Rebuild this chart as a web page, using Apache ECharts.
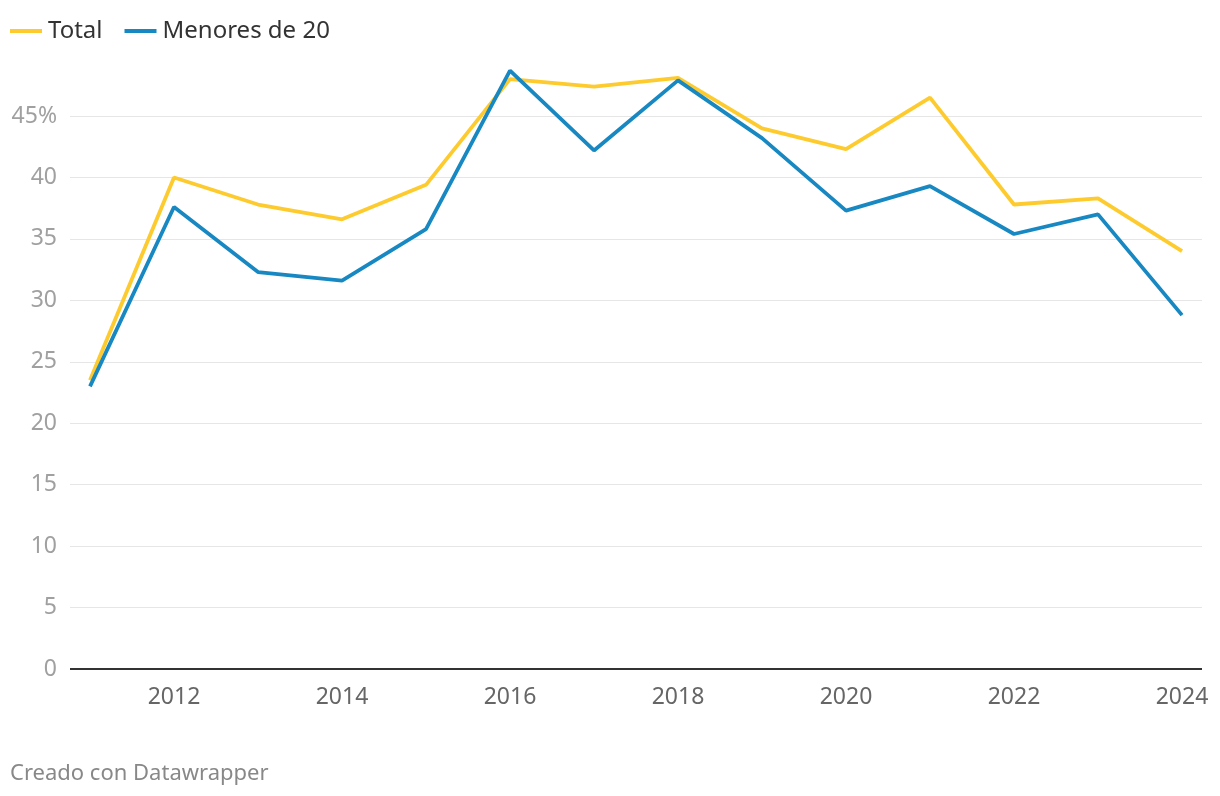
<!DOCTYPE html>
<html>
<head>
<meta charset="utf-8">
<script src="https://cdn.jsdelivr.net/npm/echarts@6/dist/echarts.min.js"></script>
<style>
html,body{margin:0;padding:0;background:#fff;}
#c{width:1220px;height:796px;}
#credit{position:absolute;left:10px;top:756px;font-family:"Noto Sans",sans-serif;font-size:22px;color:#888;}
</style>
</head>
<body>
<div id="c"></div>
<div id="credit">Creado con Datawrapper</div>
<script>
const years = [2011,2012,2013,2014,2015,2016,2017,2018,2019,2020,2021,2022,2023,2024];
const total = [23.5,40.0,37.8,36.6,39.4,48.0,47.4,48.1,44.0,42.3,46.5,37.8,38.3,34.0];
const menores = [23.0,37.6,32.3,31.6,35.8,48.7,42.2,47.9,43.2,37.3,39.3,35.4,37.0,28.8];
const xTickLabels = [2012,2014,2016,2018,2020,2022,2024];
const seriesNames = ['Total','Menores de 20'];

const chart = echarts.init(document.getElementById('c'));
const font = '"Noto Sans", sans-serif';
const grid = ['#e6e6e6','#e6e6e6','#e6e6e6','#e6e6e6','#e6e6e6','#e6e6e6','#e6e6e6','#e6e6e6','#e6e6e6','#e6e6e6','rgba(0,0,0,0)'];
chart.setOption({
  animation:false,
  textStyle:{fontFamily:font},
  color:['#fecb2f','#1888c2'],
  legend:{
    left:5, top:14,
    itemWidth:32, itemHeight:4, itemGap:22,
    icon:'rect',
    textStyle:{fontSize:24,color:'#333',fontFamily:font,padding:[0,0,0,1]},
    data:seriesNames
  },
  grid:{left:70,right:18,top:54.6,bottom:127},
  xAxis:{
    type:'value', min:2010.762, max:2024.238,
    axisLine:{show:false},
    axisTick:{show:false},
    splitLine:{show:false},
    axisLabel:{customValues:xTickLabels, fontSize:23, color:'#666', margin:17, fontFamily:font,
      formatter:v=>String(v)}
  },
  yAxis:{
    type:'value', min:0, max:50, interval:5,
    axisLine:{show:false}, axisTick:{show:false},
    splitLine:{show:true, lineStyle:{color:grid,width:1}},
    axisLabel:{fontSize:23,color:'#a0a0a0',margin:13,fontFamily:font,
      formatter:v=> v===50 ? '' : (v===45 ? '45%' : String(v))}
  },
  series:[
    {name:seriesNames[0], type:'line', data:years.map((y,i)=>[y,total[i]]), symbol:'none',
     lineStyle:{width:3.8}, z:2},
    {name:seriesNames[1], type:'line', data:years.map((y,i)=>[y,menores[i]]), symbol:'none',
     lineStyle:{width:3.8}, z:3,
     markLine:{silent:true, symbol:'none', label:{show:false},
       lineStyle:{color:'#333',width:2,type:'solid'},
       data:[[{coord:[2010.762,0]},{coord:[2024.238,0]}]]}}
  ]
});
</script>
</body>
</html>
